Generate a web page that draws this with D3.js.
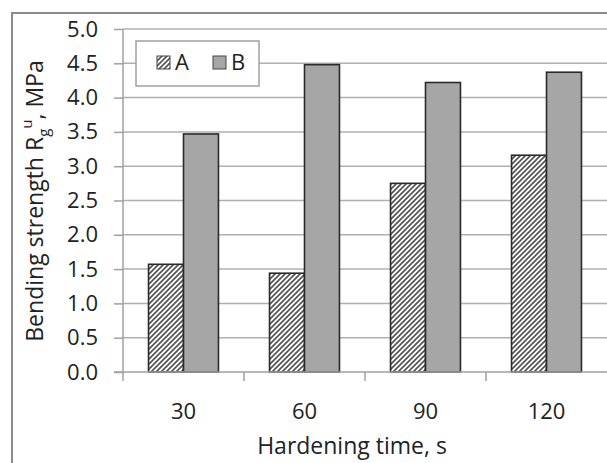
<!DOCTYPE html>
<html>
<head>
<meta charset="utf-8">
<script src="https://cdn.jsdelivr.net/npm/d3@7"></script>
<style>
  body { margin: 0; background: #fff; }
  svg text { font-family: "Open Sans", sans-serif; fill: #222; }
</style>
</head>
<body>
<div id="chart"></div>
<script>
var categories = ["30", "60", "90", "120"],
    seriesNames = ["A", "B"],
    valuesA = [1.57, 1.44, 2.75, 3.16],
    valuesB = [3.47, 4.48, 4.22, 4.37],
    yTicks = [0, 0.5, 1, 1.5, 2, 2.5, 3, 3.5, 4, 4.5, 5];

var width = 607, height = 463,
    margin = {top: 29, right: 0, bottom: 91, left: 123};

var svg = d3.select("#chart").append("svg")
    .attr("width", width)
    .attr("height", height);

var defs = svg.append("defs");
var pat = defs.append("pattern")
    .attr("id", "hatch")
    .attr("patternUnits", "userSpaceOnUse")
    .attr("width", 5)
    .attr("height", 5);
pat.append("rect").attr("width", 5).attr("height", 5).attr("fill", "#fff");
pat.append("path")
    .attr("d", "M-1,1 l2,-2 M0,5 l5,-5 M4,6 l2,-2")
    .attr("stroke", "#555")
    .attr("stroke-width", 1.7);

// outer chart frame (runs off the picture on the right and bottom)
svg.append("rect")
    .attr("x", 12).attr("y", 13)
    .attr("width", 700).attr("height", 600)
    .attr("fill", "none")
    .attr("stroke", "#8a8a8a")
    .attr("stroke-width", 2);

var x0 = d3.scaleBand()
    .domain(categories)
    .range([margin.left, width - margin.right]);

var x1 = d3.scaleBand()
    .domain(seriesNames)
    .range([0, x0.bandwidth()])
    .paddingOuter(0.73);

var y = d3.scaleLinear()
    .domain([0, 5])
    .range([height - margin.bottom, margin.top]);

// gridlines
svg.append("g")
    .selectAll("line")
    .data(yTicks.filter(function (d) { return d > 0; }))
    .enter().append("line")
    .attr("x1", margin.left).attr("x2", width - margin.right)
    .attr("y1", function (d) { return y(d); })
    .attr("y2", function (d) { return y(d); })
    .attr("stroke", "#b0b0b0")
    .attr("stroke-width", 1.5);

// y axis
var yAxis = svg.append("g")
    .attr("transform", "translate(" + margin.left + ",0)")
    .call(d3.axisLeft(y).tickValues(yTicks).tickFormat(d3.format(".1f")).tickSize(9).tickPadding(16));
yAxis.select(".domain").remove();
yAxis.append("line")
    .attr("x1", 0).attr("x2", 0)
    .attr("y1", y(5)).attr("y2", y(0))
    .attr("stroke", "#a0a0a0").attr("stroke-width", 1.5);
yAxis.selectAll(".tick line").attr("stroke", "#a0a0a0").attr("stroke-width", 1.5);
yAxis.selectAll(".tick text").attr("font-size", 22).attr("fill", "#222")
    .style("font-family", "'Open Sans', sans-serif");

// bars
var rows = categories.map(function (c, i) {
    return {cat: c, vals: [{s: "A", v: valuesA[i]}, {s: "B", v: valuesB[i]}]};
});

var groups = svg.append("g").selectAll("g")
    .data(rows)
    .enter().append("g")
    .attr("transform", function (d) { return "translate(" + x0(d.cat) + ",0)"; });

groups.selectAll("rect")
    .data(function (d) { return d.vals; })
    .enter().append("rect")
    .attr("x", function (d) { return x1(d.s); })
    .attr("width", x1.bandwidth())
    .attr("y", function (d) { return y(d.v); })
    .attr("height", function (d) { return y(0) - y(d.v); })
    .attr("fill", function (d) { return d.s === "A" ? "url(#hatch)" : "#a6a6a6"; })
    .attr("stroke", "#2a2a2a")
    .attr("stroke-width", 1.6);

// x axis
var xAxisG = svg.append("g")
    .attr("transform", "translate(0," + y(0) + ")");
xAxisG.append("line")
    .attr("x1", margin.left - 9).attr("x2", width - margin.right)
    .attr("stroke", "#a0a0a0").attr("stroke-width", 1.5);
xAxisG.selectAll("line.tk")
    .data(categories)
    .enter().append("line")
    .attr("class", "tk")
    .attr("x1", function (d) { return x0(d); })
    .attr("x2", function (d) { return x0(d); })
    .attr("y1", 0).attr("y2", 9)
    .attr("stroke", "#a0a0a0").attr("stroke-width", 1.5);
xAxisG.selectAll("text")
    .data(categories)
    .enter().append("text")
    .attr("x", function (d) { return x0(d) + x0.bandwidth() / 2; })
    .attr("y", 47)
    .attr("text-anchor", "middle")
    .attr("font-size", 22)
    .text(function (d) { return d; });

// axis titles
svg.append("text")
    .attr("x", 352)
    .attr("y", 454)
    .attr("text-anchor", "middle")
    .attr("font-size", 23)
    .text("Hardening time, s");

var yt = svg.append("text")
    .attr("transform", "translate(43,201) rotate(-90)")
    .attr("text-anchor", "middle")
    .attr("font-size", 23);
yt.append("tspan").text("Bending strength R");
yt.append("tspan").attr("font-size", 15).attr("dy", 6).text("g");
yt.append("tspan").attr("font-size", 15).attr("dy", -17).text("u");
yt.append("tspan").attr("dy", 11).text(", MPa");

// legend
var legend = svg.append("g").attr("transform", "translate(136,41)");
legend.append("rect")
    .attr("width", 123).attr("height", 45)
    .attr("fill", "#fff")
    .attr("stroke", "#a0a0a0").attr("stroke-width", 1.5);
var li = legend.selectAll("g.item")
    .data(seriesNames)
    .enter().append("g")
    .attr("class", "item")
    .attr("transform", function (d, i) { return "translate(" + (21 + i * 56) + ",15)"; });
li.append("rect")
    .attr("width", 13).attr("height", 13)
    .attr("fill", function (d) { return d === "A" ? "url(#hatch)" : "#a6a6a6"; })
    .attr("stroke", "#444").attr("stroke-width", 1);
li.append("text")
    .attr("x", 18).attr("y", 14)
    .attr("font-size", 22)
    .text(function (d) { return d; });
</script>
</body>
</html>
